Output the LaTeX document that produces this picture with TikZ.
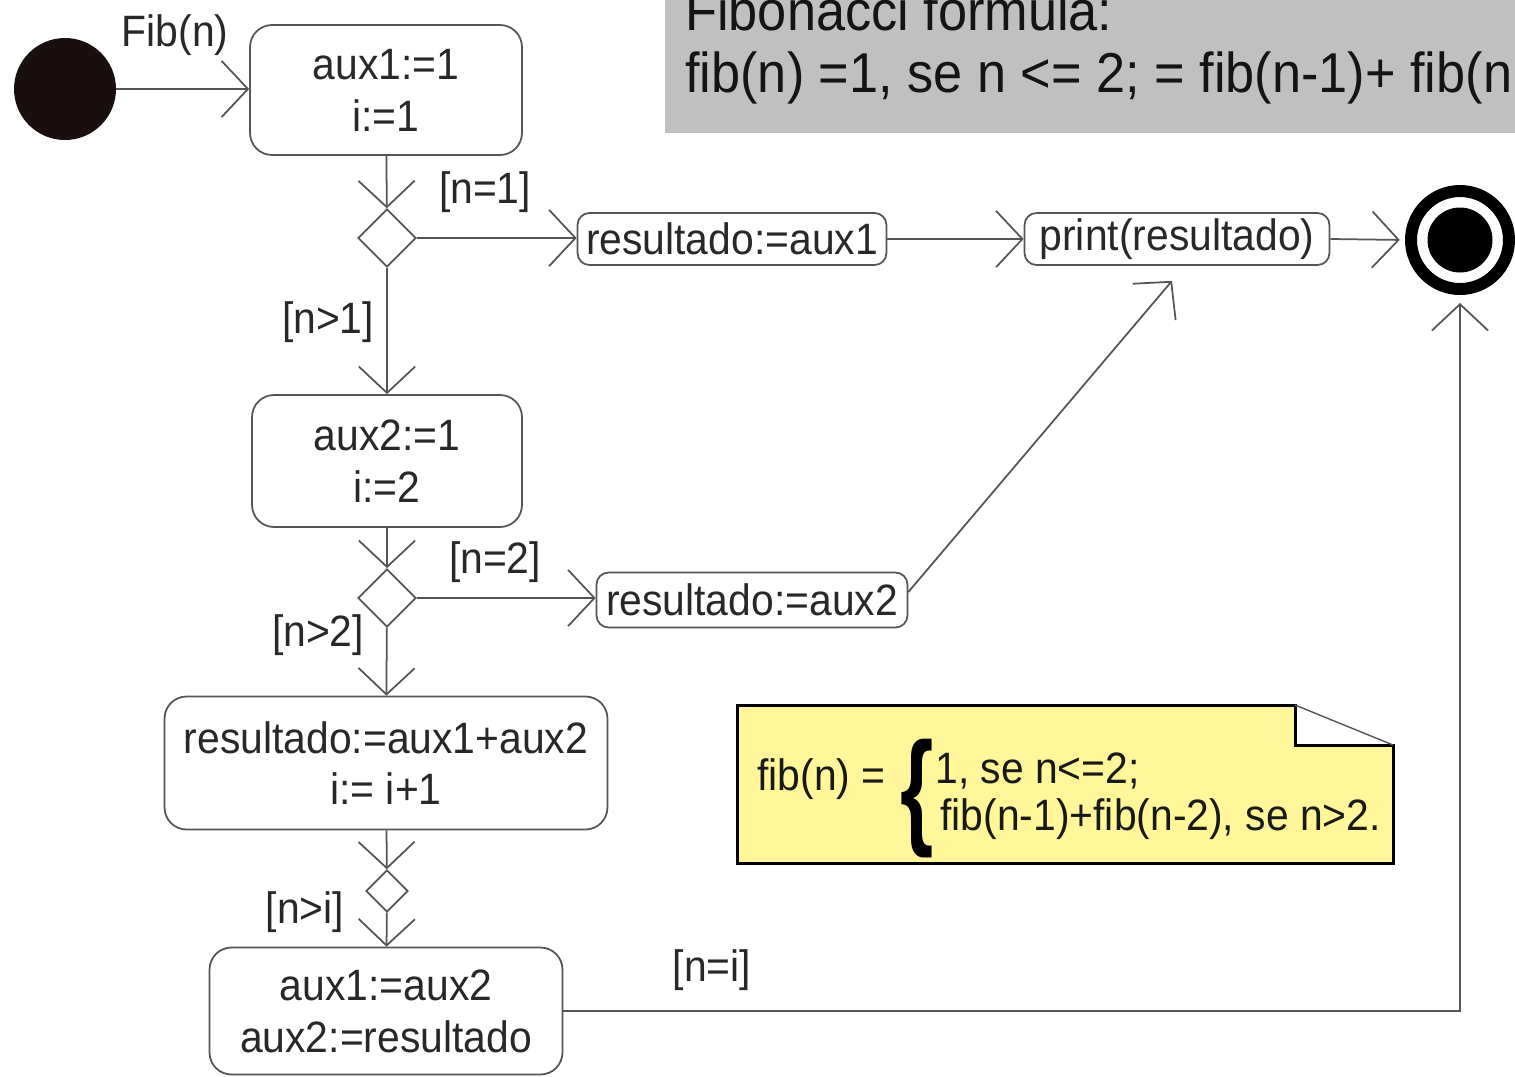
\documentclass[tikz,border=0pt]{standalone}
\usepackage{fontspec}
\setmainfont{Liberation Sans}[FakeStretch=0.93]
\usetikzlibrary{arrows.meta,shapes.geometric,calc}
\definecolor{ln}{RGB}{85,85,85}
\definecolor{tx}{RGB}{40,40,40}
\definecolor{noteyellow}{RGB}{255,247,153}
\definecolor{hdr}{RGB}{192,192,192}
\definecolor{startc}{RGB}{25,15,15}
\begin{document}
\begin{tikzpicture}[x=0.02cm,y=-0.02cm,
  font=\fontsize{25}{29.5}\selectfont,
  act/.style={draw=ln, line width=1pt, rounded corners=0.44cm, align=center, inner sep=0pt, text=tx},
  small/.style={draw=ln, line width=1pt, rounded corners=0.24cm, inner sep=0pt, text=tx},
  dec/.style={draw=ln, line width=1pt, diamond, aspect=1, inner sep=0pt},
  flow/.style={draw=ln, line width=1pt, -{Straight Barb[length=15pt,width=32pt,line width=1pt]}},
  lbl/.style={inner sep=0pt, text=tx},
  hdrtext/.style={inner sep=0pt, anchor=base west, text=black!92, font=\fontsize{32}{36}\selectfont}]
\useasboundingbox (0,0) rectangle (1515,1076);
\clip (0,0) rectangle (1515,1076);

% header box
\fill[hdr] (665,0) rectangle (1515,133);
\node[hdrtext] (hdr1) at (685,30) {Fibonacci formula:};
\node[hdrtext] (hdr2) at (685,92) {fib(n) =1, se n <= 2; = fib(n-1)+ fib(n};

% start and final
\node[circle, fill=startc, minimum size=2.04cm, inner sep=0pt] (start) at (65,89) {};
\node[circle, draw=black, fill=white, line width=0.24cm, minimum size=1.96cm, inner sep=0pt] (final) at (1460,240) {};
\fill[black] (final.center) circle (0.65cm);

% actions
\node[act, minimum width=5.44cm, minimum height=2.6cm] (b1) at (386,90) {aux1:=1\\i:=1};
\node[act, minimum width=5.4cm, minimum height=2.64cm] (b2) at (387,461) {aux2:=1\\i:=2};
\node[act, minimum width=8.86cm, minimum height=2.66cm] (b3) at (386,763) {resultado:=aux1+aux2\\i:= i+1};
\node[act, minimum width=7.06cm, minimum height=2.54cm] (b4) at (386,1011) {aux1:=aux2\\aux2:=resultado};
\node[small, minimum width=6.18cm, minimum height=1.04cm] (r1) at (732,239) {resultado:=aux1};
\node[small, minimum width=6.1cm, minimum height=1.04cm] (pr) at (1177,239) {print(resultado)};
\node[small, minimum width=6.22cm, minimum height=1.1cm] (r2) at (752,600) {resultado:=aux2};

% decisions
\node[dec, minimum size=1.16cm] (d1) at (387,238) {};
\node[dec, minimum size=1.16cm] (d2) at (387,598) {};
\node[dec, minimum size=0.84cm] (d3) at (387,891) {};

% flows
\draw[flow] (start.east) -- (start.east -| b1.west);
\draw[flow] (b1) -- (d1);
\draw[flow] (d1.east) -- (d1.east -| r1.west);
\draw[flow] (r1) -- (pr);
\draw[flow, shorten >=3pt] (pr.east) -- (final.west);
\draw[flow] (d1) -- (b2);
\draw[flow] (b2) -- (d2);
\draw[flow] (d2.east) -- (d2.east -| r2.west);
\draw[flow] ($(r2.east)+(0,-8)$) -- ($(pr.south)+(-5,15)$);
\draw[flow] (d2) -- (b3);
\draw[flow] (b3) -- (d3);
\draw[flow] (d3) -- (b4);
\draw[flow] (b4.east) -| ($(final.south)+(0,8)$);

% labels
\node[lbl] (lfib) at (175,35) {Fib(n)};
\node[lbl] (l1) at (485,192) {[n=1]};
\node[lbl] (l2) at (328,322) {[n>1]};
\node[lbl] (l3) at (495,562) {[n=2]};
\node[lbl] (l4) at (318,635) {[n>2]};
\node[lbl] (l5) at (305,912) {[n>i]};
\node[lbl] (l6) at (712,970) {[n=i]};

% note
\fill[noteyellow] (737,705) -- (1295,705) -- (1393,745) -- (1393,863) -- (737,863) -- cycle;
\fill[white] (1295,705) -- (1295,745) -- (1393,745) -- cycle;
\draw[black, line width=1.7pt, line join=miter] (1295,705) -- (737,705) -- (737,863) -- (1393,863) -- (1393,745) -- (1295,745) -- cycle;
\draw[ln, line width=0.8pt] (1295,705) -- (1393,745);
\node[anchor=base west, inner sep=0pt, text=black!90] (nfib) at (757,790) {fib(n) =};
\node[inner sep=0pt, text=black] (brace) at (917,799) {\scalebox{2.1}[2.9]{\bfseries\{}};
\node[anchor=base west, inner sep=0pt, text=black!90] (n1) at (935,783) {1, se n<=2;};
\node[anchor=base west, inner sep=0pt, text=black!90] (n2) at (940,830) {fib(n-1)+fib(n-2), se n>2.};
\end{tikzpicture}
\end{document}
